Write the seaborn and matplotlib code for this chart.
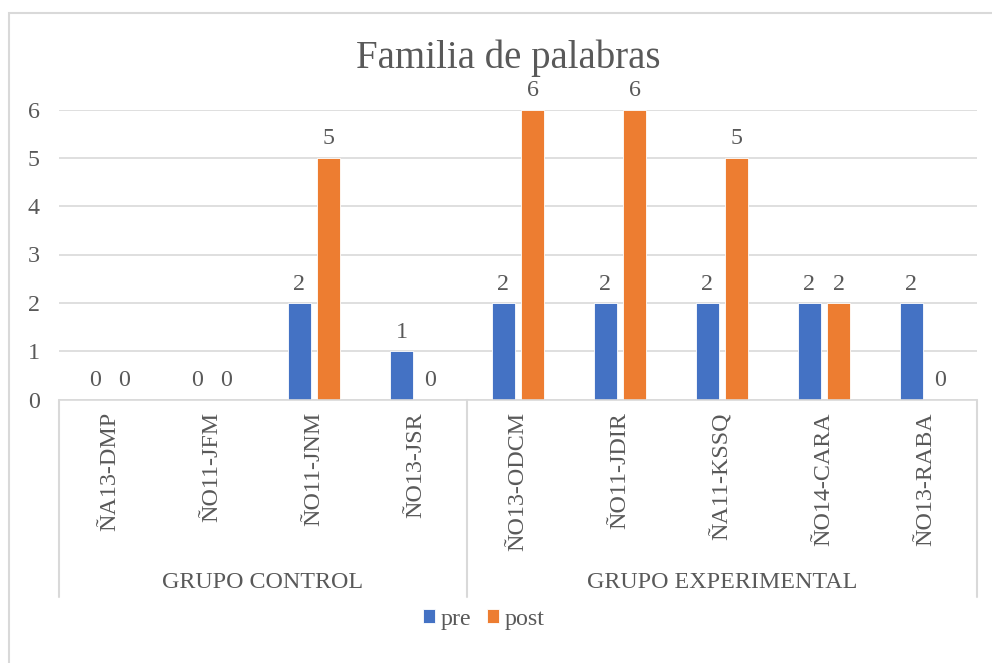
import matplotlib
matplotlib.use("Agg")
import matplotlib.pyplot as plt
import matplotlib.transforms as mtransforms
from matplotlib.patches import Rectangle
import seaborn as sns
import pandas as pd

# ---- data ----
categories = ["ÑA13-DMP", "ÑO11-JFM", "ÑO11-JNM", "ÑO13-JSR",
              "ÑO13-ODCM", "ÑO11-JDIR", "ÑA11-KSSQ", "ÑO14-CARA", "ÑO13-RABA"]
pre_values = [0, 0, 2, 1, 2, 2, 2, 2, 2]
post_values = [0, 0, 5, 0, 6, 6, 5, 2, 0]
series_names = ["pre", "post"]
groups = ["GRUPO CONTROL", "GRUPO EXPERIMENTAL"]
group_sizes = [4, 5]
title = "Familia de palabras"
yticks = [0, 1, 2, 3, 4, 5, 6]

BLUE = "#4472C4"
ORANGE = "#ED7D31"
TXT = "#595959"
GRID = "#D9D9D9"
W, H = 992, 663
FS = 17.3

df = pd.DataFrame({
    "cat": categories * 2,
    "serie": ["pre"] * len(categories) + ["post"] * len(categories),
    "value": pre_values + post_values,
})

sns.set_theme(style="white")
plt.rcParams["font.family"] = ["Liberation Serif", "DejaVu Serif"]

fig = plt.figure(figsize=(W / 100, H / 100), dpi=100)

def fy(py):
    return 1 - py / H

def fx(px):
    return px / W

ax = fig.add_axes([fx(59), fy(399.5), fx(977) - fx(59), fy(109.5) - fy(399.5)])

sns.barplot(data=df, x="cat", y="value", hue="serie", order=categories,
            hue_order=series_names, palette=[BLUE, ORANGE], width=0.57, gap=0.21,
            saturation=1, errorbar=None, ax=ax, legend=True,
            edgecolor="white", linewidth=0.6)

ax.set_xlim(-0.5, len(categories) - 0.5)
ax.set_ylim(0, 6)
ax.set_yticks(yticks)
ax.set_yticklabels([str(t) for t in yticks], fontsize=FS, color=TXT)
ax.tick_params(axis="y", length=0, pad=14)
ax.set_xticks([])
ax.set_xlabel("")
ax.set_ylabel("")
ax.yaxis.grid(True, color=GRID, lw=1.2)
ax.set_axisbelow(True)
for s in ["top", "right", "left"]:
    ax.spines[s].set_visible(False)
ax.spines["bottom"].set_color(GRID)
ax.spines["bottom"].set_linewidth(1.2)

for cont in ax.containers:
    ax.bar_label(cont, labels=[f"{int(v)}" for v in cont.datavalues],
                 padding=6, fontsize=FS, color=TXT)

# multi-level category axis
trans = mtransforms.blended_transform_factory(ax.transData, fig.transFigure)
for i, c in enumerate(categories):
    ax.text(i, fy(412), c, rotation=90, ha="center", va="top", fontsize=FS,
            color=TXT, transform=trans, clip_on=False)

start = 0
bounds = [-0.5]
for g, n in zip(groups, group_sizes):
    center = start + (n - 1) / 2
    ax.text(center, fy(582), g, ha="center", va="center", fontsize=FS,
            color=TXT, transform=trans, clip_on=False)
    start += n
    bounds.append(start - 0.5)
for b in bounds:
    ax.plot([b, b], [fy(400), fy(597)], color=GRID, lw=1.5, transform=trans,
            clip_on=False)

# legend
handles, labels = ax.get_legend_handles_labels()
ax.legend(handles, labels, loc="center", bbox_to_anchor=(fx(484), fy(619)),
          bbox_transform=fig.transFigure, ncol=2, frameon=False, fontsize=FS,
          handlelength=0.48, handleheight=0.48, handletextpad=0.25,
          columnspacing=0.65, labelcolor=TXT, borderpad=0.1)

# title
fig.text(fx(508), fy(58), title, ha="center", va="center", fontsize=28, color=TXT)

# chart border (cropped on right/bottom)
fig.patches.append(Rectangle((fx(9), -0.1), 1.2, fy(13) + 0.1, transform=fig.transFigure,
                             fill=False, edgecolor=GRID, lw=1.5))

fig.savefig("out.png", dpi=100)
